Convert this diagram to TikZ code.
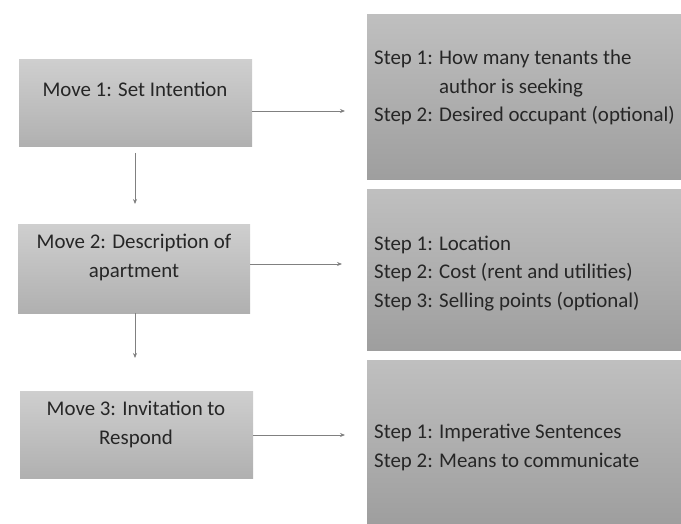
\documentclass[tikz,border=0pt]{standalone}
\usepackage{fontspec}
\setmainfont{Carlito}
\usetikzlibrary{arrows.meta}
\begin{document}
\begin{tikzpicture}[x=1pt,y=-1pt,
  movebox/.style={draw=none,rectangle,inner sep=0pt,top color=black!19,bottom color=black!31},
  stepbox/.style={draw=none,rectangle,inner sep=0pt,top color=black!25,bottom color=black!38},
  txt/.style={font=\fontsize{20.9}{28.5}\selectfont,text=black!85,inner sep=0pt},
  con/.style={draw=black!50,line width=0.8pt,-{Stealth[length=5pt,width=4pt]}}]
\useasboundingbox (0,0) rectangle (681,524);
% move boxes
\node[movebox,minimum width=233pt,minimum height=87pt] (m1) at (135.5,103.5) {};
\node[movebox,minimum width=232pt,minimum height=88pt] (m2) at (134,269) {};
\node[movebox,minimum width=233pt,minimum height=87pt] (m3) at (136.5,434.5) {};
% step boxes
\node[stepbox,minimum width=314pt,minimum height=165pt] (s1) at (524,97.5) {};
\node[stepbox,minimum width=314pt,minimum height=160pt] (s2) at (524,270) {};
\node[stepbox,minimum width=314pt,minimum height=164pt] (s3) at (524,442) {};
% texts (anchored at the baseline of their last line)
\node[txt,anchor=base] (t1) at (135,97) {Move 1: Set Intention};
\node[txt,anchor=base,align=center] (t2) at (134,277) {Move 2: Description of\\apartment};
\node[txt,anchor=base,align=center] (t3) at (136,444) {Move 3: Invitation to\\Respond};
\node[txt,anchor=base west,align=left] (u1) at (374,122) {Step 1: How many tenants the\\\phantom{Step 1: }author is seeking\\Step 2: Desired occupant (optional)};
\node[txt,anchor=base west,align=left] (u2) at (374,307) {Step 1: Location\\Step 2: Cost (rent and utilities)\\Step 3: Selling points (optional)};
\node[txt,anchor=base west,align=left] (u3) at (374,467) {Step 1: Imperative Sentences\\Step 2: Means to communicate};
% connector ends
\coordinate (a1) at (252,111); \coordinate (b1) at (345,111);
\coordinate (a2) at (250,264); \coordinate (b2) at (342,264);
\coordinate (a3) at (253,435); \coordinate (b3) at (345,435);
\coordinate (d1) at (135,153); \coordinate (e1) at (135,204);
\coordinate (d2) at (135,313); \coordinate (e2) at (135,358);
\draw[con] (a1) -- (b1);
\draw[con] (a2) -- (b2);
\draw[con] (a3) -- (b3);
\draw[con] (d1) -- (e1);
\draw[con] (d2) -- (e2);
\end{tikzpicture}
\end{document}
